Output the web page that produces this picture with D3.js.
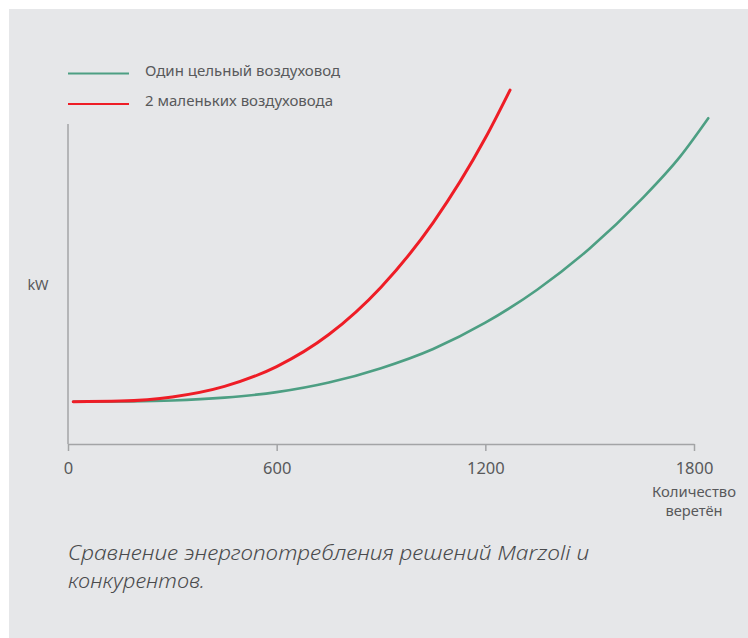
<!DOCTYPE html>
<html>
<head>
<meta charset="utf-8">
<script src="https://cdn.jsdelivr.net/npm/d3@7"></script>
<style>
  html, body { margin: 0; padding: 0; background: #ffffff; }
  svg { display: block; }
  text { font-family: "Noto Sans", "Open Sans", sans-serif; }
</style>
</head>
<body>
<script>
// Spindle counts (x) and relative power draw (y, arbitrary kW units)
const singleDuctX = [15, 150, 300, 450, 600, 750, 900, 1050, 1200, 1350, 1500, 1650, 1760, 1841];
const singleDuctY = [13.2, 13.3, 13.6, 14.5, 16.2, 19.2, 23.7, 29.7, 37.9, 48.3, 61.1, 76.6, 89.8, 101.8];
const twoDuctsX = [15, 150, 300, 450, 600, 750, 900, 1050, 1200, 1271];
const twoDuctsY = [13.2, 13.4, 14.7, 18.0, 24.2, 34.2, 49.0, 69.2, 95.6, 110.6];
const xTicks = [0, 600, 1200, 1800];
const seriesNames = ["Один цельный воздуховод", "2 маленьких воздуховода"];
const seriesColors = ["#4d9f83", "#ee1d26"];
const xTitle = ["Количество", "веретён"];
const yTitle = "kW";
const caption = ["Сравнение энергопотребления решений Marzoli и", "конкурентов."];

const W = 748, H = 638;
const svg = d3.select("body").append("svg").attr("width", W).attr("height", H);

// Panel background
svg.append("rect").attr("x", 9).attr("y", 9).attr("width", W - 9).attr("height", H - 9)
  .attr("fill", "#e6e7e9");

const x = d3.scaleLinear().domain([0, 1800]).range([68, 694]);
const y = d3.scaleLinear().domain([0, 100]).range([444, 124]);

const axisColor = "#a3a4a6";
const textColor = "#58595b";

// Y axis line
svg.append("line").attr("x1", x(0)).attr("x2", x(0)).attr("y1", y(0)).attr("y2", y(100))
  .attr("stroke", axisColor).attr("stroke-width", 1.5);

// X axis
const xAxis = d3.axisBottom(x).tickValues(xTicks).tickFormat(d3.format("d"))
  .tickSize(7).tickSizeOuter(0).tickPadding(11);
const gx = svg.append("g").attr("transform", `translate(0,${y(0)})`).call(xAxis);
gx.select(".domain").attr("stroke", axisColor).attr("stroke-width", 1.5);
gx.selectAll(".tick line").attr("stroke", axisColor).attr("stroke-width", 1.5);
gx.selectAll(".tick text").attr("fill", textColor).attr("font-size", 16.5)
  .attr("font-family", "'Noto Sans', sans-serif");

// Axis titles
xTitle.forEach((t, i) => {
  svg.append("text").attr("x", x(1800)).attr("y", 497 + i * 19.2).attr("text-anchor", "middle")
    .attr("font-size", 14).attr("fill", textColor)
    .attr("textLength", i ? 57 : 84).attr("lengthAdjust", "spacingAndGlyphs")
    .text(t);
});
svg.append("text").attr("x", 38).attr("y", 290).attr("text-anchor", "middle")
  .attr("font-size", 14.5).attr("fill", textColor).text(yTitle);

// Curves
const line = d3.line().x(d => x(d[0])).y(d => y(d[1])).curve(d3.curveMonotoneX);
const series = [
  { pts: d3.zip(singleDuctX, singleDuctY), color: seriesColors[0], w: 2.6 },
  { pts: d3.zip(twoDuctsX, twoDuctsY), color: seriesColors[1], w: 3 }
];
svg.selectAll("path.curve").data(series).join("path").attr("class", "curve")
  .attr("d", d => line(d.pts)).attr("fill", "none")
  .attr("stroke", d => d.color).attr("stroke-width", d => d.w).attr("stroke-linecap", "round");

// Legend
const legend = svg.append("g");
seriesNames.forEach((name, i) => {
  const ly = 73.5 + i * 30.5;
  legend.append("line").attr("x1", 68).attr("x2", 129).attr("y1", ly).attr("y2", ly)
    .attr("stroke", seriesColors[i]).attr("stroke-width", 2);
  legend.append("text").attr("x", 145).attr("y", ly + 2).attr("font-size", 15)
    .attr("fill", textColor).text(name);
});

// Caption, two lines
const capWidths = [521, 137];
caption.forEach((t, i) => {
  svg.append("text").attr("x", 68).attr("y", 560 + i * 27.5)
    .attr("font-size", 20).attr("font-style", "italic").attr("font-weight", 300)
    .attr("fill", "#4a4b4d")
    .attr("textLength", capWidths[i]).attr("lengthAdjust", "spacingAndGlyphs")
    .text(t);
});
</script>
</body>
</html>
